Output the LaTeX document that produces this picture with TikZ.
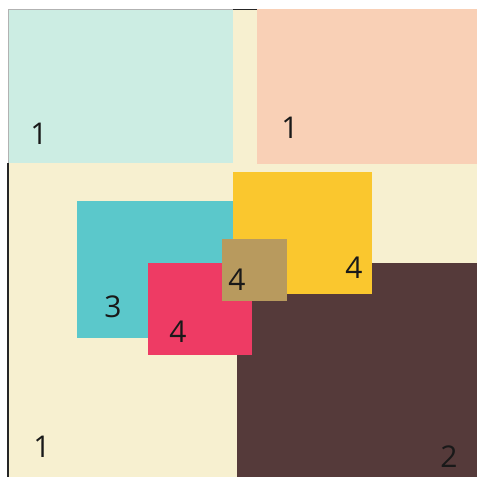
\documentclass[tikz,border=0pt]{standalone}
\usepackage{fontspec}
\setmainfont{Open Sans}
\usetikzlibrary{positioning}
\definecolor{cBg}{HTML}{F7F0D0}
\definecolor{cMint}{HTML}{CCEDE3}
\definecolor{cPeach}{HTML}{F9D0B6}
\definecolor{cSun}{HTML}{FAC72E}
\definecolor{cTeal}{HTML}{5BC8CB}
\definecolor{cRose}{HTML}{EE3B64}
\definecolor{cTan}{HTML}{B89A5E}
\definecolor{cCoco}{HTML}{553A3A}
\tikzset{
  num/.style={font=\fontsize{30}{30}\selectfont,text=black!90,inner sep=0pt},
  edge/.style={draw=black!85,line width=1.2pt},
}
\begin{document}
\begin{tikzpicture}[x=1pt,y=-1pt]
  \useasboundingbox (0,0) rectangle (477,477);
  % ground and the two top panels
  \fill[cBg] (8,9) rectangle (477,477);
  \fill[cMint] (8,9) rectangle (233,163);
  \fill[cPeach] (257,9) rectangle (477,164);
  \draw[black!30,line width=.6pt] (8,163) -- (8,9) -- (233,9);
  \draw[edge] (8,163) -- (8,477);
  \draw[edge] (233,9.5) -- (257,9.5);
  % stacked blocks, back to front
  \fill[cCoco] (237,263) rectangle (477,477);
  \fill[cTeal] (77,201) rectangle (233,338);
  \fill[cSun] (233,172) rectangle (372,294);
  \fill[cRose] (148,263) rectangle (252,355);
  \fill[cTan] (222,239) rectangle (287,301);
  % labels
  \node[num] (lMint) at (39,134) {1};
  \node[num] (lPeach) at (290,128) {1};
  \node[num] (lTeal) at (113,307) {3};
  \node[num] (lRose) at (178,332) {4};
  \node[num] (lTan) at (237,280) {4};
  \node[num] (lSun) at (354,268) {4};
  \node[num] (lBg) at (42,447) {1};
  \node[num] (lCoco) at (449,457) {2};
\end{tikzpicture}
\end{document}
